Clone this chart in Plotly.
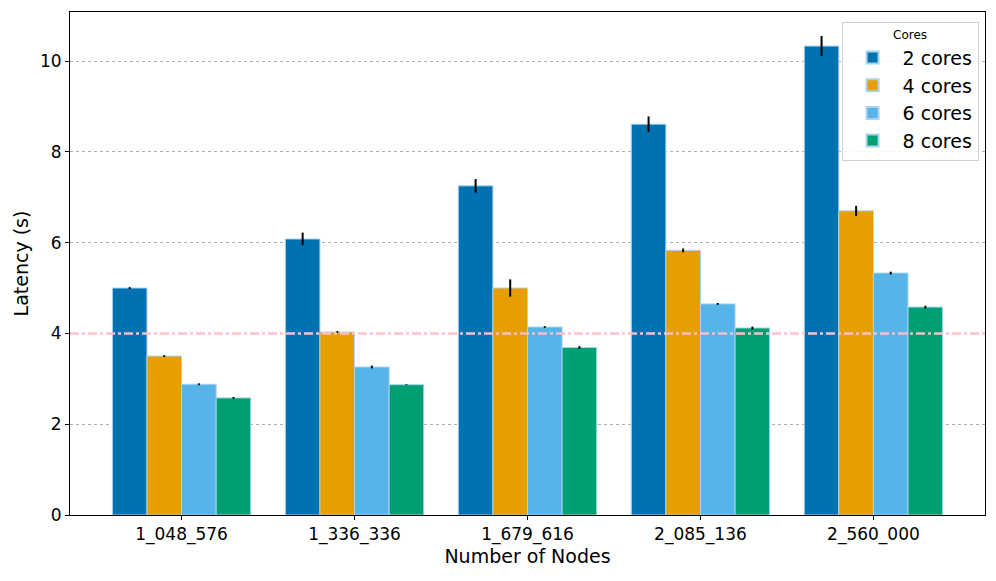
import plotly.graph_objects as go

categories = ["1_048_576", "1_336_336", "1_679_616", "2_085_136", "2_560_000"]
series_names = ["2 cores", "4 cores", "6 cores", "8 cores"]
colors = ["#0072B2", "#E69F00", "#56B4E9", "#009E73"]
lat_2 = [5.00, 6.08, 7.25, 8.61, 10.33]
lat_4 = [3.50, 4.03, 5.00, 5.83, 6.70]
lat_6 = [2.88, 3.26, 4.14, 4.65, 5.33]
lat_8 = [2.58, 2.87, 3.69, 4.12, 4.58]
err_2 = [0.02, 0.14, 0.15, 0.17, 0.22]
err_4 = [0.02, 0.02, 0.19, 0.04, 0.11]
err_6 = [0.02, 0.03, 0.02, 0.02, 0.03]
err_8 = [0.02, 0.01, 0.03, 0.03, 0.03]
threshold = 4.0

values = [lat_2, lat_4, lat_6, lat_8]
errors = [err_2, err_4, err_6, err_8]
xs = list(range(len(categories)))

fig = go.Figure()
for name, col, v, e in zip(series_names, colors, values, errors):
    fig.add_trace(go.Bar(
        x=xs, y=v, name=name,
        marker=dict(color=col, line=dict(color="#A9D4F0", width=1)),
        error_y=dict(type="data", array=e, color="black", thickness=2, width=0),
    ))

fig.add_shape(type="line", xref="paper", x0=0, x1=1, yref="y", y0=threshold, y1=threshold,
              line=dict(color="pink", width=2.5, dash="dashdot"), layer="above")

fig.update_layout(
    width=996, height=581,
    margin=dict(l=62, r=19, t=4, b=74),
    paper_bgcolor="white", plot_bgcolor="white",
    barmode="group", bargap=0.2, bargroupgap=0,
    font=dict(family="DejaVu Sans", size=17, color="black"),
    showlegend=True,
    legend=dict(
        title=dict(text="Cores", font=dict(size=12), side="top center"),
        x=0.993, y=0.98, xanchor="right", yanchor="top",
        bgcolor="rgba(255,255,255,0.85)", bordercolor="#D0D0D0", borderwidth=1,
        font=dict(size=19), itemsizing="constant", tracegroupgap=0,
        itemwidth=50,
    ),
    xaxis=dict(
        range=[-0.645, 4.645], tickmode="array", tickvals=xs, ticktext=categories,
        showline=True, linecolor="black", linewidth=1, mirror=True,
        ticks="outside", ticklen=4, tickcolor="black", showgrid=False,
        automargin=False,
        title=dict(text="Number of Nodes", font=dict(size=19), standoff=2),
        tickfont=dict(size=17),
    ),
    yaxis=dict(
        range=[0, 11.08], tickvals=[0, 2, 4, 6, 8, 10],
        showline=True, linecolor="black", linewidth=1, mirror=True,
        ticks="outside", ticklen=4, tickcolor="black",
        showgrid=True, gridcolor="#B0B0B0", griddash="dot", gridwidth=0.8,
        zeroline=False, automargin=False,
        title=dict(text="Latency (s)", font=dict(size=19), standoff=6),
        tickfont=dict(size=17),
    ),
)

fig.write_html("out.html")
